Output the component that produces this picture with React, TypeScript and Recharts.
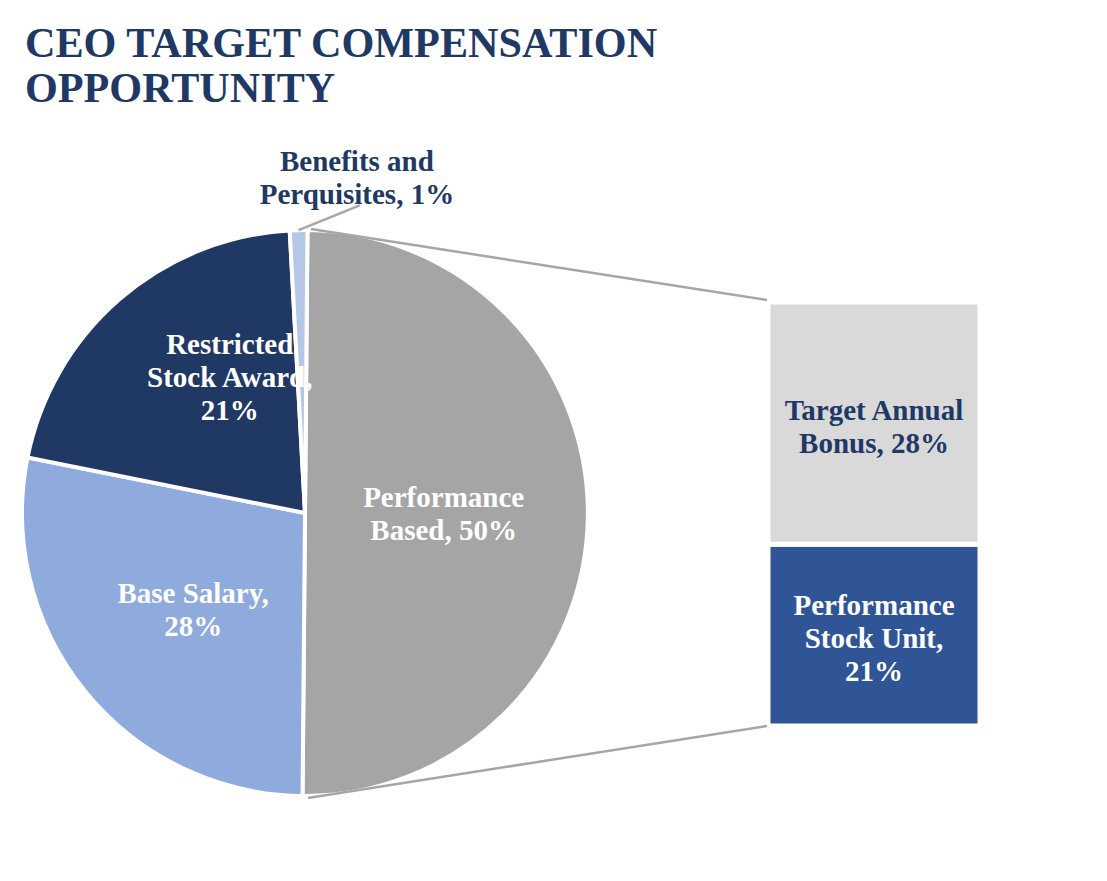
import { PieChart, Pie, Cell, BarChart, Bar, XAxis, YAxis } from 'recharts'

// pie slices (clockwise from 12 o'clock)
const pieNames = ['Performance Based', 'Base Salary', 'Restricted Stock Award', 'Benefits and Perquisites']
const pieValues = [50, 28, 21, 1]
const pieLabelLines = [
  ['Performance', 'Based, 50%'],
  ['Base Salary,', '28%'],
  ['Restricted', 'Stock Award,', '21%'],
  ['Benefits and', 'Perquisites, 1%']
]

// breakdown of the performance based slice (bottom to top)
const barNames = ['Performance Stock Unit', 'Target Annual Bonus']
const barValues = [21, 28]
const barLabelLines = [
  ['Performance', 'Stock Unit,', '21%'],
  ['Target Annual', 'Bonus, 28%']
]

const titleLines = ['CEO TARGET COMPENSATION', 'OPPORTUNITY']

const pieColors = ['#a5a5a5', '#8faadc', '#203864', '#b4c7e7']
const pieTextColors = ['#ffffff', '#ffffff', '#ffffff', '#203864']
const barColors = ['#2f5597', '#d9d9d9']
const barTextColors = ['#ffffff', '#203864']

const FONT = '"Liberation Serif", "Times New Roman", serif'
const NAVY = '#203864'
const LABEL_SIZE = 29
const LINE_H = 33

const PIE_CX = 305
const PIE_CY = 513
const PIE_R = 283
const PIE_ROT = 0.5 // small clockwise rotation, like excel's bar-of-pie

// bar area (outer edge incl. white border)
const BAR_LEFT = 767.5
const BAR_TOP = 301.5
const BAR_W = 212
const BAR_H = 424

// label placement tweaks: radius fraction + angle nudge (deg, clockwise)
const piePlacement = [
  { r: 0.49, d: 0 },
  { r: 0.523, d: -1.3 },
  { r: 0.55, d: 12.5 },
  { r: 1.2, d: 10.6 }
]

const pieData = pieNames.map((name, i) => ({ name, value: pieValues[i] }))
const barRow: Record<string, string | number> = { name: 'Performance Based' }
barNames.forEach((n, i) => {
  barRow[n] = barValues[i]
})
const barData = [barRow]

const RAD = Math.PI / 180

const MultiLine = ({ x, y, lines, fill }: { x: number; y: number; lines: string[]; fill: string }) => {
  const first = y - ((lines.length - 1) * LINE_H) / 2 + 10
  return (
    <text
      x={x}
      y={first}
      textAnchor="middle"
      fill={fill}
      fontFamily={FONT}
      fontWeight="bold"
      fontSize={LABEL_SIZE}
    >
      {lines.map((l, i) => (
        <tspan key={i} x={x} y={first + i * LINE_H}>
          {l}
        </tspan>
      ))}
    </text>
  )
}

const renderPieLabel = (props: any) => {
  const { cx, cy, midAngle, outerRadius, index } = props
  const p = piePlacement[index]
  const theta = 90 - midAngle + p.d - PIE_ROT
  const r = outerRadius * p.r
  const x = cx + r * Math.sin(theta * RAD)
  const y = cy - r * Math.cos(theta * RAD)
  const isOutside = p.r > 1
  let leader = null
  if (isOutside) {
    const t0 = 90 - midAngle
    const t1 = t0 + 11.4
    const r1 = outerRadius * 1.104
    leader = (
      <line
        x1={cx + outerRadius * Math.sin(t0 * RAD)}
        y1={cy - outerRadius * Math.cos(t0 * RAD)}
        x2={cx + r1 * Math.sin(t1 * RAD)}
        y2={cy - r1 * Math.cos(t1 * RAD)}
        stroke="#a6a6a6"
        strokeWidth={2.5}
      />
    )
  }
  return (
    <g key={`pl-${index}`}>
      {leader}
      <MultiLine x={x} y={y} lines={pieLabelLines[index]} fill={pieTextColors[index]} />
    </g>
  )
}

const makeBarLabel = (idx: number) => (props: any) => {
  const { x, y, width, height } = props
  return (
    <MultiLine
      x={Number(x) + Number(width) / 2}
      y={Number(y) + Number(height) / 2 + 3}
      lines={barLabelLines[idx]}
      fill={barTextColors[idx]}
    />
  )
}

export default function App() {
  return (
    <div
      style={{
        position: 'absolute',
        left: 0,
        top: 0,
        width: 1107,
        height: 881,
        background: '#fff'
      }}
    >
      <svg width={1107} height={881} style={{ position: 'absolute', left: 0, top: 0 }}>
        {titleLines.map((t, i) => (
          <text
            key={t}
            x={25}
            y={57 + i * 45}
            fill={NAVY}
            fontFamily={FONT}
            fontWeight="bold"
            fontSize={42.2}
          >
            {t}
          </text>
        ))}
      </svg>

      <div style={{ position: 'absolute', left: 0, top: 0 }}>
        <PieChart width={1107} height={881} margin={{ top: 0, right: 0, bottom: 0, left: 0 }}>
          <Pie
            data={pieData}
            dataKey="value"
            nameKey="name"
            cx={PIE_CX}
            cy={PIE_CY}
            outerRadius={PIE_R}
            startAngle={90 - PIE_ROT}
            endAngle={-270 - PIE_ROT}
            stroke="#ffffff"
            strokeWidth={4}
            label={renderPieLabel}
            labelLine={false}
            isAnimationActive={false}
          >
            {pieData.map((d, i) => (
              <Cell key={d.name} fill={pieColors[i]} />
            ))}
          </Pie>
        </PieChart>
      </div>

      {/* connectors between the pie and the breakdown bar, drawn above the pie */}
      <svg width={1107} height={881} style={{ position: 'absolute', left: 0, top: 0 }}>
        <line x1={311} y1={229} x2={767} y2={300} stroke="#a6a6a6" strokeWidth={2.5} />
        <line x1={308} y1={798} x2={767} y2={726} stroke="#a6a6a6" strokeWidth={2.5} />
      </svg>

      <div style={{ position: 'absolute', left: BAR_LEFT, top: BAR_TOP }}>
        <BarChart
          width={BAR_W}
          height={BAR_H}
          data={barData}
          margin={{ top: 0, right: 0, bottom: 0, left: 0 }}
          barCategoryGap={0}
        >
          <XAxis dataKey="name" hide />
          <YAxis hide domain={[0, barValues.reduce((a, b) => a + b, 0)]} />
          {barNames.map((n, i) => (
            <Bar
              key={n}
              dataKey={n}
              stackId="perf"
              fill={barColors[i]}
              stroke="#ffffff"
              strokeWidth={5}
              label={makeBarLabel(i)}
              isAnimationActive={false}
            />
          ))}
        </BarChart>
      </div>
    </div>
  )
}
